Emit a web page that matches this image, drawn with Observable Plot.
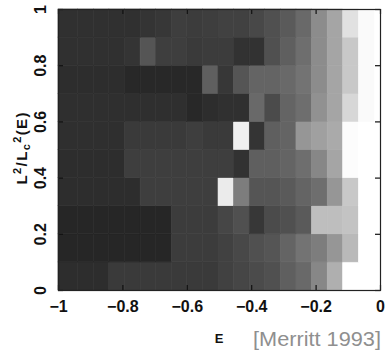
<!DOCTYPE html>
<html>
<head>
<meta charset="utf-8">
<script src="https://cdn.jsdelivr.net/npm/d3@7"></script>
<script src="https://cdn.jsdelivr.net/npm/@observablehq/plot@0.6"></script>
<style>
  html, body { margin: 0; padding: 0; background: #fff; }
  #chart svg { display: block; }
</style>
</head>
<body>
<div id="chart"></div>
<script>
// Bin edges of energy E
const xEdges = [-1, -0.939, -0.890, -0.842, -0.793, -0.745, -0.697, -0.648, -0.600, -0.551,
                -0.503, -0.455, -0.406, -0.358, -0.309, -0.261, -0.213, -0.164, -0.116, -0.067, -0.019];
// Bin edges of L^2/Lc^2(E)
const yEdges = [0, 0.1, 0.2, 0.3, 0.4, 0.5, 0.6, 0.7, 0.8, 0.9, 1.0];
// Gray level of each cell (0 = black, 255 = white), rows from bottom (0–0.1) to top (0.9–1)
const row00 = [45,45,45,58,58,58,58,58,58,58, 65,70,75,80,95,105,135,175,255,255];
const row01 = [38,38,38,38,38,38,38,60,60,60, 65,72,80,85,100,115,125,150,185,255];
const row02 = [38,38,38,38,38,38,38,60,60,60, 70,80,55,75,80,90,190,190,195,255];
const row03 = [45,45,45,45,45,62,62,62,62,62, 235,125,85,85,90,100,110,150,200,255];
const row04 = [45,45,45,45,62,62,62,62,62,62, 62,50,95,95,100,110,135,165,252,255];
const row05 = [47,47,47,47,58,58,58,58,62,58, 58,240,52,95,100,150,160,170,252,255];
const row06 = [47,47,47,47,47,47,47,47,40,45, 48,48,105,75,100,110,145,165,215,250];
const row07 = [45,45,45,45,40,40,40,40,40,95, 55,85,100,100,105,115,140,165,200,250];
const row08 = [48,48,48,48,52,85,62,62,58,60, 60,50,50,80,95,110,140,165,200,250];
const row09 = [48,48,48,48,48,52,55,62,60,62, 65,65,72,80,90,105,140,165,225,250];
const grayRows = [row00, row01, row02, row03, row04, row05, row06, row07, row08, row09];

const xTicks = [-1, -0.8, -0.6, -0.4, -0.2, 0];
const xTickLabels = ["\u22121", "\u22120.8", "\u22120.6", "\u22120.4", "\u22120.2", "0"];
const yTicks = [0, 0.2, 0.4, 0.6, 0.8, 1];
const yTickLabels = ["0", "0.2", "0.4", "0.6", "0.8", "1"];

// Build the cell table
const cells = [];
grayRows.forEach((row, j) => {
  row.forEach((g, i) => {
    cells.push({x1: xEdges[i], x2: xEdges[i + 1], y1: yEdges[j], y2: yEdges[j + 1], g});
  });
});

const W = 386, H = 351;
const mL = 58, mR = 6, mT = 9, mB = 61;
const innerW = W - mL - mR, innerH = H - mT - mB;
const tickLen = 5;
const FONT = "Liberation Sans, Arial, sans-serif";

const chart = Plot.plot({
  width: W,
  height: H,
  marginLeft: mL,
  marginRight: mR,
  marginTop: mT,
  marginBottom: mB,
  style: {fontFamily: FONT, background: "#fff"},
  x: {domain: [-1, 0], label: null, axis: null},
  y: {domain: [0, 1], label: null, axis: null},
  color: {type: "linear", domain: [0, 255], range: ["black", "white"], interpolate: "rgb"},
  marks: [
    Plot.rect(cells, {x1: "x1", x2: "x2", y1: "y1", y2: "y2", fill: "g", stroke: "g", strokeWidth: 0.6}),
    // inward ticks on all four sides
    Plot.tickX(xTicks, {x: d => d, insetTop: innerH - tickLen, stroke: "#111", strokeWidth: 1.2}),
    Plot.tickX(xTicks, {x: d => d, insetBottom: innerH - tickLen, stroke: "#111", strokeWidth: 1.2}),
    Plot.tickY(yTicks, {y: d => d, insetLeft: innerW - tickLen, stroke: "#111", strokeWidth: 1.2}),
    Plot.tickY(yTicks, {y: d => d, insetRight: innerW - tickLen, stroke: "#111", strokeWidth: 1.2}),
    Plot.frame({stroke: "#222", strokeWidth: 1.2}),
    Plot.text(xTicks, {x: d => d, frameAnchor: "bottom", text: (d, i) => xTickLabels[i], dy: 10,
                       textAnchor: "middle", lineAnchor: "top", fontSize: 16, fontWeight: "bold", fill: "#111"}),
    Plot.text(yTicks, {y: d => d, frameAnchor: "left", text: (d, i) => yTickLabels[i], rotate: -90, dx: -18,
                       textAnchor: "middle", lineAnchor: "middle", fontSize: 16, fontWeight: "bold", fill: "#111"})
  ]
});

document.getElementById("chart").appendChild(chart);

const svg = d3.select(chart);
// y-axis title: L²/Lc²(E)
const yl = svg.append("text")
  .attr("transform", `translate(27,${mT + innerH / 2 - 1}) rotate(-90)`)
  .attr("text-anchor", "middle")
  .attr("font-family", FONT)
  .attr("font-weight", "bold")
  .attr("font-size", 15)
  .attr("fill", "#111")
  .attr("textLength", 72)
  .attr("lengthAdjust", "spacing");
yl.append("tspan").text("L");
yl.append("tspan").attr("dy", -6).attr("font-size", 11).text("2");
yl.append("tspan").attr("dy", 6).text("/L");
yl.append("tspan").attr("dy", 3).attr("font-size", 11).text("c");
yl.append("tspan").attr("dy", -9).attr("font-size", 11).text("2");
yl.append("tspan").attr("dy", 6).text("(E)");

// x-axis title
svg.append("text")
  .attr("x", mL + innerW / 2)
  .attr("y", 343)
  .attr("text-anchor", "middle")
  .attr("font-family", FONT)
  .attr("font-weight", "bold")
  .attr("font-size", 13)
  .attr("fill", "#111")
  .text("E");

// source note
svg.append("text")
  .attr("x", 381)
  .attr("y", 346)
  .attr("text-anchor", "end")
  .attr("font-family", FONT)
  .attr("font-size", 21)
  .attr("fill", "#8f8f8f")
  .attr("textLength", 128)
  .attr("lengthAdjust", "spacingAndGlyphs")
  .text("[Merritt 1993]");
</script>
</body>
</html>
